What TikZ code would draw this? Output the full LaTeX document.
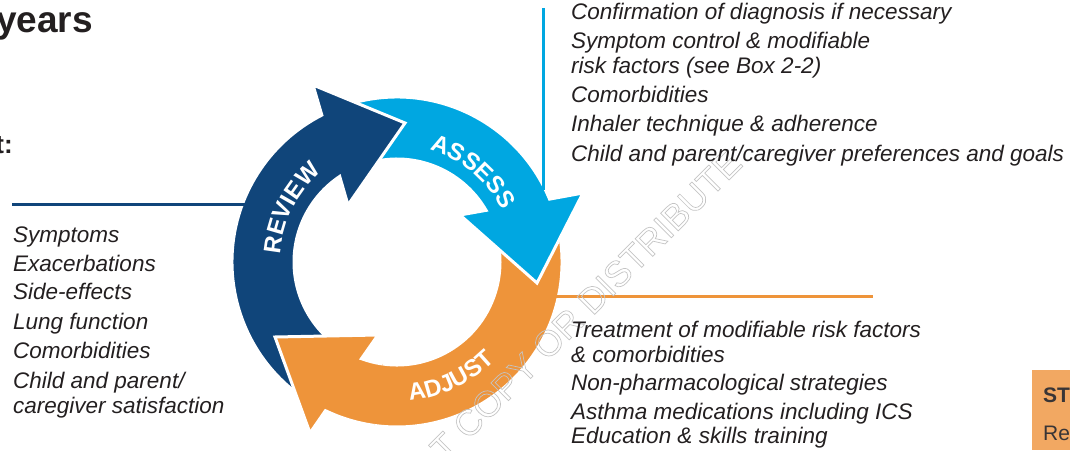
\documentclass[tikz,border=0pt]{standalone}
\usepackage{fontspec}
\setmainfont{Liberation Sans}
\usetikzlibrary{decorations.text}
\definecolor{navy}{HTML}{10457A}
\definecolor{sky}{HTML}{00A7E1}
\definecolor{amber}{HTML}{EE943A}
\definecolor{txt}{HTML}{231F20}
\definecolor{peach}{HTML}{F2A862}
\definecolor{wmark}{HTML}{C4C4C4}
\newcommand{\outlinetxt}[1]{\special{pdf:literal direct 1 Tr 0.7 w}#1\special{pdf:literal direct 0 Tr}}
\begin{document}
\begin{tikzpicture}[x=1pt,y=1pt,
  item/.style={anchor=base west, inner sep=0pt, font=\fontsize{22.5}{25}\selectfont\itshape, text=txt},
  ringarrow/.style={draw=white, line width=3pt, line join=miter},
  linkline/.style={line width=3pt},
  lbl/.style={decorate, decoration={text along path, text align=center}}]
\useasboundingbox (0,0) rectangle (1070,450);
\clip (0,0) rectangle (1070,450);

% ring arrows
\begin{scope}[shift={(397,188)}]
  \def\orangepath{(12:165) arc[start angle=12, end angle=-115.7, radius=165] -- (-87,-171) -- (-122,-75) -- (-19,-73) -- (-110.2:103) arc[start angle=-110.2, end angle=12, radius=103] -- cycle}
  \fill[amber, ringarrow] \orangepath;
  \fill[sky, ringarrow] (108:165) arc[start angle=108, end angle=22.4, radius=165] -- (186,69) -- (140,-21) -- (63,47) -- (30.1:103) arc[start angle=30.1, end angle=108, radius=103] -- cycle;
  \fill[navy, ringarrow] (238:165) arc[start angle=238, end angle=117.1, radius=165] -- (-84,177) -- (8,139) -- (-49,57) -- (123.8:103) arc[start angle=123.8, end angle=238, radius=103] -- cycle;
  \begin{scope}
    \clip (0,0) -- (190:320) -- (225:320) -- (262:320) -- cycle;
    \fill[amber, ringarrow] \orangepath;
  \end{scope}
  \path[lbl, decoration={text={|\fontsize{24}{24}\selectfont\bfseries\color{white}|ASSESS}}] (90:117) arc[start angle=90, end angle=10, radius=117];
  \path[lbl, decoration={text={|\fontsize{24}{24}\selectfont\bfseries\color{white}|REVIEW}}] (193:117) arc[start angle=193, end angle=113, radius=117];
  \path[lbl, decoration={text={|\fontsize{24}{24}\selectfont\bfseries\color{white}|ADJUST}}] (-105:139) arc[start angle=-105, end angle=-25, radius=139];
\end{scope}

% connector lines
\coordinate (navyA) at (12,245);
\coordinate (navyB) at (248,245);
\coordinate (skyA) at (543,442);
\coordinate (skyB) at (543,260);
\coordinate (amberA) at (553,153);
\coordinate (amberB) at (873,153);
\draw[navy, linkline] (navyA) -- (navyB);
\draw[sky, linkline] (skyA) -- (skyB);
\draw[amber, linkline] (amberA) -- (amberB);

% watermark
\node[anchor=base west, inner sep=0pt, rotate=45, text=wmark, font=\fontsize{36}{36}\selectfont] (wm) at (468,9) {\outlinetxt{\llap{DO NOT }COPY OR DISTRIBUTE}};

% headings (cut at left edge)
\node[anchor=base east, inner sep=0pt, text=txt, font=\fontsize{37}{37}\selectfont\bfseries] (yrs) at (93,417) {years};
\node[anchor=base east, inner sep=0pt, text=txt, font=\fontsize{26}{26}\selectfont\bfseries] (tcol) at (13,296) {t:};

% assess list
\node[item] (a1) at (571,430) {Confirmation of diagnosis if necessary};
\node[item] (a2) at (571,401) {Symptom control \& modifiable};
\node[item] (a3) at (571,376) {risk factors (see Box 2-2)};
\node[item] (a4) at (571,347) {Comorbidities};
\node[item] (a5) at (571,318) {Inhaler technique \& adherence};
\node[item] (a6) at (571,288) {Child and parent/caregiver preferences and goals};

% review list
\node[item] (r1) at (13,207) {Symptoms};
\node[item] (r2) at (13,178) {Exacerbations};
\node[item] (r3) at (13,150) {Side-effects};
\node[item] (r4) at (13,121) {Lung function};
\node[item] (r5) at (13,92) {Comorbidities};
\node[item] (r6) at (13,62) {Child and parent/};
\node[item] (r7) at (13,37) {caregiver satisfaction};

% adjust list
\node[item] (j1) at (571,113) {Treatment of modifiable risk factors};
\node[item] (j2) at (571,88) {\& comorbidities};
\node[item] (j3) at (571,60) {Non-pharmacological strategies};
\node[item] (j4) at (571,31) {Asthma medications including ICS};
\node[item] (j5) at (571,7) {Education \& skills training};

% step box at bottom right
\fill[peach] (1032,0) rectangle (1075,80);
\node[anchor=base west, inner sep=0pt, text=txt!90, font=\fontsize{21}{21}\selectfont\bfseries] (st) at (1043,48) {ST};
\node[anchor=base west, inner sep=0pt, text=txt!90, font=\fontsize{21}{21}\selectfont] (re) at (1043,10) {Re};
\end{tikzpicture}
\end{document}
